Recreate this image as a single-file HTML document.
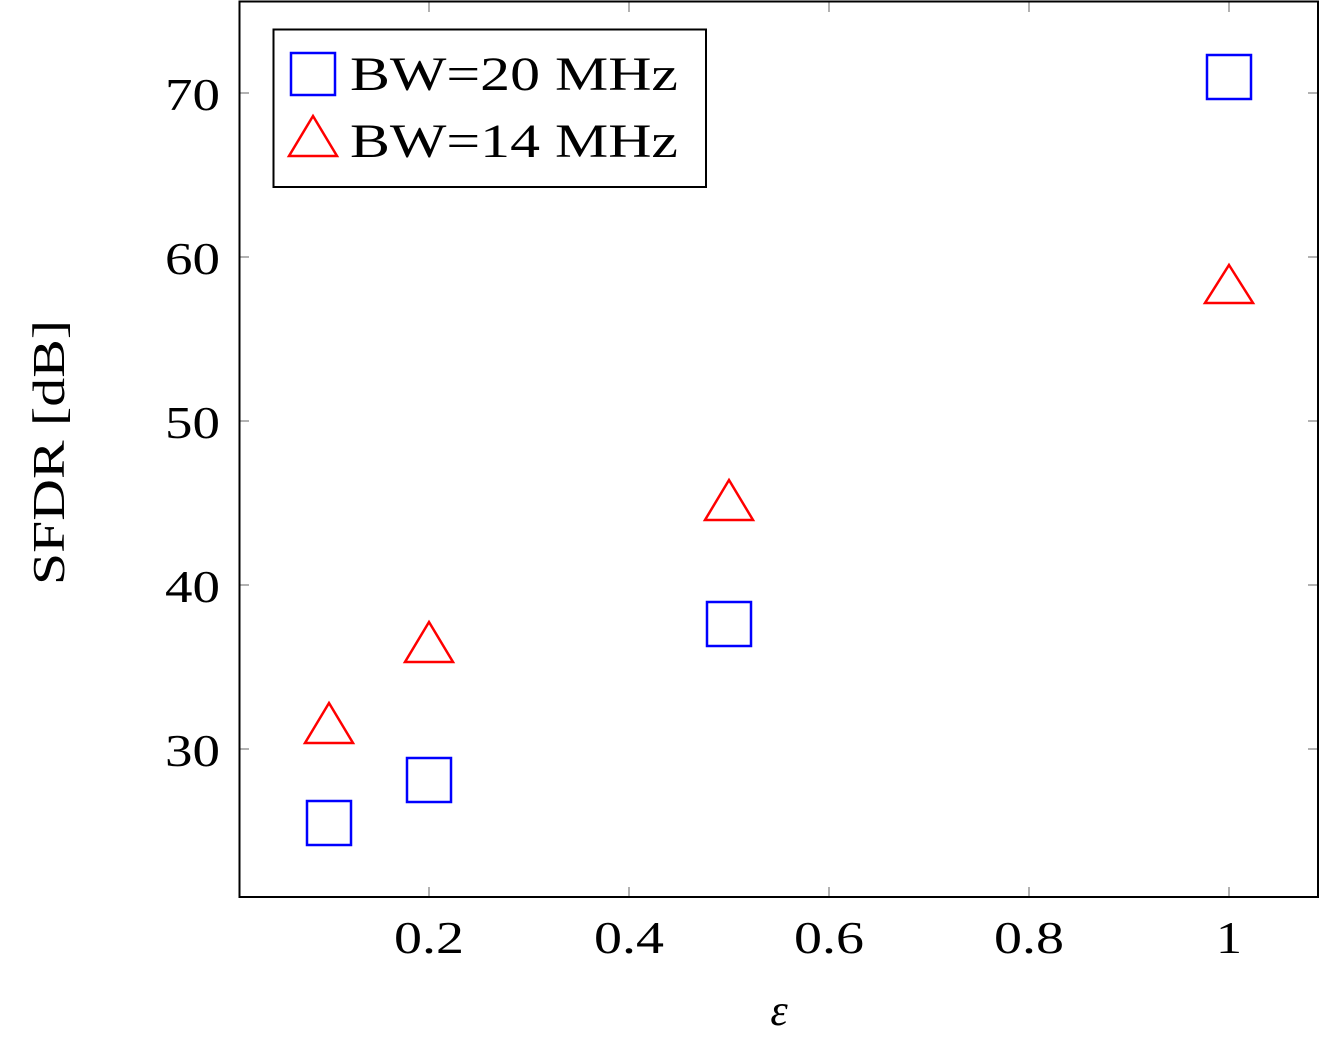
<!DOCTYPE html>
<html><head><style>body{margin:0;background:#fff}svg{display:block}</style></head><body>
<svg width="1320" height="1043" viewBox="0 0 1320 1043" xmlns="http://www.w3.org/2000/svg" font-family="'Liberation Serif',serif">
<rect x="0" y="0" width="1320" height="1043" fill="#fff"/>
<g stroke="#999" stroke-width="1.5">
<path d="M429 897v-10M629 897v-10M829 897v-10M1029 897v-10M1229 897v-10M429 2v10M629 2v10M829 2v10M1029 2v10M1229 2v10"/>
<path d="M239 93h10M239 257h10M239 421h10M239 585h10M239 749h10M1318 93h-10M1318 257h-10M1318 421h-10M1318 585h-10M1318 749h-10"/>
</g>
<rect x="239.5" y="1.5" width="1078.5" height="895.5" fill="none" stroke="#000" stroke-width="2"/>
<g font-size="46" fill="#000">
<text x="165" y="110" textLength="55" lengthAdjust="spacingAndGlyphs">70</text>
<text x="165" y="274" textLength="55" lengthAdjust="spacingAndGlyphs">60</text>
<text x="165" y="438" textLength="55" lengthAdjust="spacingAndGlyphs">50</text>
<text x="165" y="602" textLength="55" lengthAdjust="spacingAndGlyphs">40</text>
<text x="165" y="766" textLength="55" lengthAdjust="spacingAndGlyphs">30</text>
</g>
<g font-size="46" fill="#000">
<text x="394" y="953" textLength="70" lengthAdjust="spacingAndGlyphs">0.2</text>
<text x="594" y="953" textLength="70" lengthAdjust="spacingAndGlyphs">0.4</text>
<text x="794" y="953" textLength="70" lengthAdjust="spacingAndGlyphs">0.6</text>
<text x="994" y="953" textLength="70" lengthAdjust="spacingAndGlyphs">0.8</text>
<text x="1216" y="953" textLength="26" lengthAdjust="spacingAndGlyphs">1</text>
</g>
<text x="779" y="1025" font-size="44" font-style="italic" text-anchor="middle">ε</text>
<text transform="translate(64,585) rotate(-90)" font-size="46" textLength="265" lengthAdjust="spacingAndGlyphs">SFDR [dB]</text>
<g fill="none" stroke="#00f" stroke-width="2.5">
<rect x="307" y="801" width="44" height="44"/><rect x="407" y="758" width="44" height="44"/><rect x="707" y="602" width="44" height="44"/><rect x="1207" y="55" width="44" height="44"/>
</g>
<g fill="none" stroke="#f00" stroke-width="2.5">
<path d="M329 703l24 40h-48z"/><path d="M429 622l24 40h-48z"/><path d="M729 480l24 40h-48z"/><path d="M1229 265l24 38h-48z"/>
</g>
<rect x="273.5" y="29.5" width="432.5" height="157.5" fill="#fff" stroke="#000" stroke-width="2"/>
<rect x="291" y="53" width="44" height="42" fill="none" stroke="#00f" stroke-width="2.5"/>
<path d="M313 116l24 40h-48z" fill="none" stroke="#f00" stroke-width="2.5"/>
<g font-size="48" fill="#000">
<text x="350" y="90" textLength="328" lengthAdjust="spacingAndGlyphs">BW=20 MHz</text>
<text x="350" y="157" textLength="328" lengthAdjust="spacingAndGlyphs">BW=14 MHz</text>
</g>
</svg>
</body></html>
